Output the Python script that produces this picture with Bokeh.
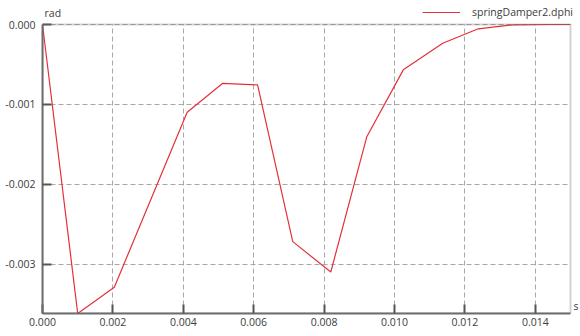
from bokeh.plotting import figure
from bokeh.models import (FixedTicker, PrintfTickFormatter, Range1d, Legend, LegendItem,
                          Label, BoxAnnotation)
from bokeh.embed import file_html
from bokeh.resources import INLINE

time = [0.0, 0.00100, 0.00204, 0.00411, 0.00512, 0.00611, 0.00711, 0.00819,
        0.00921, 0.01025, 0.01137, 0.01238, 0.01336, 0.0144, 0.0150]
dphi = [0.0, -0.00362, -0.00329, -0.00110, -0.000737, -0.000757, -0.00272, -0.00310,
        -0.00141, -0.000568, -0.000235, -0.000054, -0.000004, 0.0, 0.0]
x_ticks = [0.0, 0.002, 0.004, 0.006, 0.008, 0.010, 0.012, 0.014]
y_ticks = [-0.003, -0.002, -0.001, 0.0]
series_name = "springDamper2.dphi"
y_unit = "rad"
x_unit = "s"

# axis limits of the data area
X_MIN, X_MAX = 0.0, 0.015
Y_MIN, Y_MAX = -0.00362, 0.0
# the frame is widened a little (top and right) so that the unit labels and
# the legend, which sit outside the data area, are not clipped
X_VIEW_END = X_MAX * 538.0 / 528.0
Y_VIEW_END = Y_MAX - (Y_MIN - Y_MAX) * 24.0 / 289.0

FONT = "Open Sans"
TXT = "#3c3c3c"
AX = "#6e6e6e"
LINE = "#e3303b"

p = figure(width=580, height=336, output_backend="svg", toolbar_location=None,
           x_range=Range1d(X_MIN, X_VIEW_END), y_range=Range1d(Y_MIN, Y_VIEW_END),
           min_border_left=42, min_border_right=0, min_border_top=0, min_border_bottom=23)
p.background_fill_color = "white"
p.border_fill_color = "white"
p.outline_line_color = None

# grid
for g in (p.xgrid[0], p.ygrid[0]):
    g.grid_line_color = "#a8a8a8"
    g.grid_line_dash = "5 3"
    g.grid_line_width = 1
p.xgrid[0].ticker = FixedTicker(ticks=x_ticks)
p.ygrid[0].ticker = FixedTicker(ticks=y_ticks)
try:
    p.xgrid[0].cross_bounds = (Y_MIN, Y_MAX)
    p.ygrid[0].cross_bounds = (X_MIN, X_MAX)
    need_masks = False
except Exception:
    need_masks = True

r = p.line(time, dphi, line_color=LINE, line_width=1.2)

if need_masks:
    p.add_layout(BoxAnnotation(bottom=Y_MAX, fill_color="white", fill_alpha=1,
                               line_alpha=0, level="guide"))
    p.add_layout(BoxAnnotation(left=X_MAX, fill_color="white", fill_alpha=1,
                               line_alpha=0, level="guide"))

# frame of the data area
p.add_layout(BoxAnnotation(left=X_MIN, right=X_MAX, bottom=Y_MIN, top=Y_MAX,
                           fill_alpha=0, line_color=AX, line_width=2, level="annotation"))

for ax in (p.xaxis[0], p.yaxis[0]):
    ax.axis_line_color = AX
    ax.axis_line_width = 2
    ax.major_tick_in = 9
    ax.major_tick_out = 0
    ax.major_tick_line_color = "#555555"
    ax.major_tick_line_width = 2
    ax.minor_tick_line_color = None
    ax.major_label_text_font = FONT
    ax.major_label_text_font_size = "10.5px"
    ax.major_label_text_color = TXT
    ax.formatter = PrintfTickFormatter(format="%.3f")

p.xaxis[0].ticker = FixedTicker(ticks=x_ticks)
p.yaxis[0].ticker = FixedTicker(ticks=y_ticks)
p.xaxis[0].bounds = (X_MIN, X_MAX)
p.yaxis[0].bounds = (Y_MIN, Y_MAX)
p.xaxis[0].major_label_standoff = 4
p.yaxis[0].major_label_standoff = 7

legend = Legend(items=[LegendItem(label=series_name, renderers=[r])],
                location=(380, 294))
legend.padding = 0
legend.margin = 0
legend.spacing = 0
legend.glyph_width = 38
legend.glyph_height = 14
legend.label_standoff = 12
legend.label_text_font = FONT
legend.label_text_font_size = "10.5px"
legend.label_text_color = TXT
legend.background_fill_alpha = 0
legend.border_line_alpha = 0
p.add_layout(legend, "center")

p.add_layout(Label(x=X_MIN, y=Y_MAX, x_offset=2, y_offset=12, text=y_unit,
                   text_font=FONT, text_font_size="10.5px", text_color=TXT,
                   text_baseline="middle", text_align="left"))
p.add_layout(Label(x=X_MAX, y=Y_MIN, x_offset=3, y_offset=8, text=x_unit,
                   text_font=FONT, text_font_size="10.5px", text_color=TXT,
                   text_baseline="middle", text_align="left"))

open("out.html", "w").write(file_html(p, INLINE))
